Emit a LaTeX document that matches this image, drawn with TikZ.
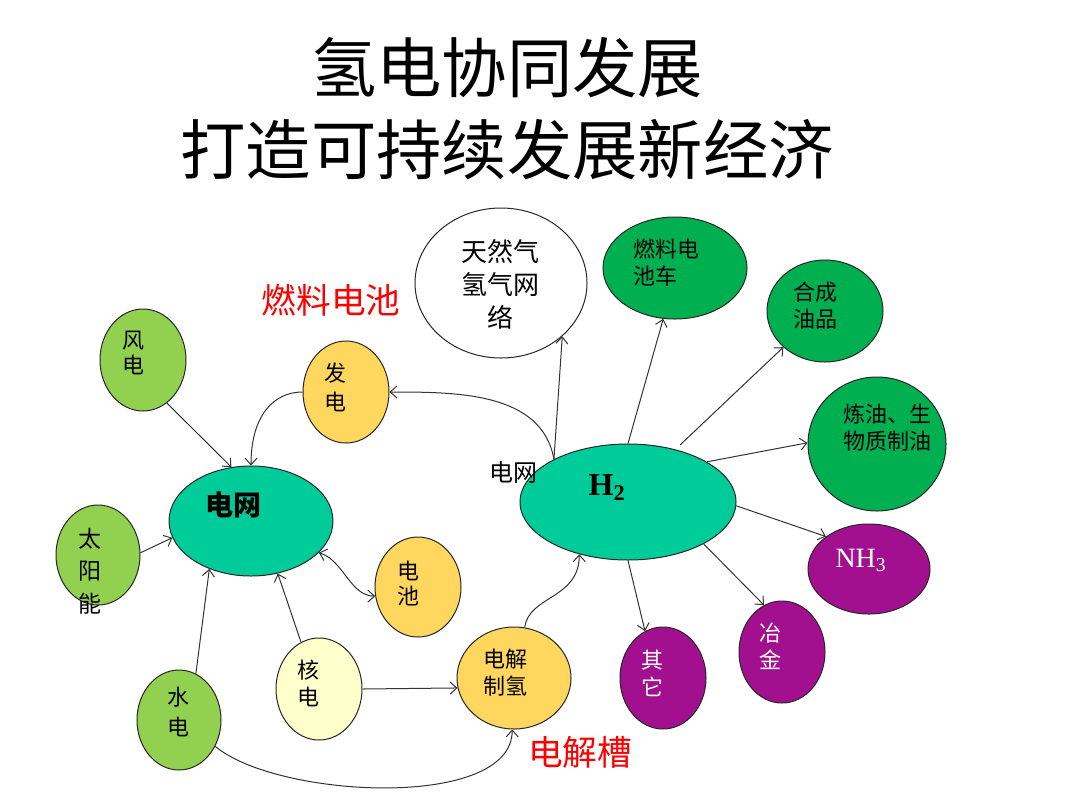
\documentclass[tikz,border=0pt]{standalone}
\usepackage{fontspec}
\setmainfont{Liberation Serif}
\newfontfamily\cjk{Noto Sans CJK SC}
\usetikzlibrary{shapes.geometric,arrows.meta}
\definecolor{lgreen}{HTML}{92D050}
\definecolor{gridteal}{HTML}{00CC99}
\definecolor{sunyellow}{HTML}{FFD75E}
\definecolor{paleyellow}{HTML}{FFFFCC}
\definecolor{dgreen}{HTML}{00B050}
\definecolor{purp}{HTML}{A3108F}
\tikzset{every picture/.style={line width=0.75pt}}
\tikzset{
oval/.style 2 args={ellipse, draw=black!85, inner sep=0pt, minimum width=#1*0.75pt, minimum height=#2*0.75pt},
txt/.style={inner sep=0pt, align=center, font=\cjk\fontsize{16.5}{20.25}\selectfont},
flow/.style={-{Straight Barb[length=5pt,width=9pt]}, black!80}}

\begin{document}
\begin{tikzpicture}[x=0.75pt,y=0.75pt,yscale=-1]
\path [use as bounding box, fill=white] (0,0) rectangle (1080,810);

%Shape: Ellipse (power side)
\node [oval={86}{102}, fill=lgreen] (wind) at (143,360) {};
\node [oval={84}{100}, fill=lgreen] (solar) at (98,555) {};
\node [oval={164}{110}, fill=gridteal] (grid) at (251,521) {};
\node [oval={86}{102}, fill=sunyellow] (fuelgen) at (346,392) {};
\node [oval={86}{100}, fill=sunyellow] (battery) at (418,587) {};
\node [oval={84}{100}, fill=lgreen] (hydro) at (179,720) {};
\node [oval={86}{102}, fill=paleyellow] (nuclear) at (319,689) {};
\node [oval={114}{102}, fill=sunyellow] (electro) at (514,678) {};
%Shape: Ellipse (hydrogen side)
\node [oval={216}{116}, fill=gridteal] (htwo) at (628,502) {};
\node [oval={172}{150}, fill=white] (gasnet) at (501,283) {};
\node [oval={144}{102}, fill=dgreen] (fcv) at (675,268) {};
\node [oval={116}{102}, fill=dgreen] (synoil) at (825,311) {};
\node [oval={138}{134}, fill=dgreen] (refine) at (877,444) {};
\node [oval={122}{90}, fill=purp] (ammonia) at (869,569) {};
\node [oval={86}{102}, fill=purp] (metal) at (782,652) {};
\node [oval={86}{102}, fill=purp] (other) at (663,678) {};

%Straight Lines
\draw [flow] (wind.-61) -- (grid.110);
\draw [flow] (solar.3) -- (grid.192);
\draw [flow] (hydro.70) -- (grid.229);
\draw [flow] (nuclear.111) -- (grid.-63);
\draw [flow] (nuclear.0) -- (electro.190);
%Curve Lines
\draw [flow] (fuelgen.180) .. controls +(-28,0) and +(0,-51) .. (grid.90);
\draw [flow, {Straight Barb[length=5pt,width=9pt]}-{Straight Barb[length=5pt,width=9pt]}] (grid.-25) .. controls +(25,8) and +(-25,0) .. (battery.192);
\draw [flow] (hydro.-36) .. controls +(62,52) and +(0,81) .. (electro.-92);
\draw [flow] (electro.78) .. controls +(4,-32) and +(0,45) .. (htwo.227);
\draw [flow] (htwo.150) .. controls +(-12,-67) and +(68,0) .. (fuelgen.0);
%Straight Lines
\draw [flow] (htwo.150) -- (gasnet.-41);
\draw [flow] (htwo.90) -- (fcv.257);
\draw [flow, shorten <=5pt] (htwo.48) -- (synoil.221);
\draw [flow] (htwo.27) -- (refine.179);
\draw [flow] (htwo.-2) -- (ammonia.143);
\draw [flow] (htwo.-29) -- (metal.111);
\draw [flow] (htwo.-90) -- (other.111);

% Text Node
\node [txt, font=\cjk\fontsize{49}{60}\selectfont] (title1) at (507,68) {氢电协同发展};
\node [txt, font=\cjk\fontsize{49}{60}\selectfont] (title2) at (507,150) {打造可持续发展新经济};
\node [txt, red, font=\cjk\fontsize{26}{30}\selectfont] (fclabel) at (331,300) {燃料电池};
\node [txt, red, font=\cjk\fontsize{26}{30}\selectfont] (ellabel) at (580,752) {电解槽};
% Text Node
\node [txt, font=\cjk\fontsize{16.5}{18.75}\selectfont] (windt) at (133,353) {风\\电};
\node [txt, font=\cjk\fontsize{17.25}{24.5}\selectfont] (solart) at (90,571) {太\\阳\\能};
\node [txt, font=\cjk\bfseries\fontsize{21}{24}\selectfont] (gridt) at (233,505) {电网};
\node [txt, font=\cjk\fontsize{16.5}{21.75}\selectfont] (fuelgent) at (335,387) {发\\电};
\node [txt, font=\cjk\fontsize{16.5}{18.75}\selectfont] (batteryt) at (408,584) {电\\池};
\node [txt, font=\cjk\fontsize{16.5}{22.5}\selectfont] (hydrot) at (178,712) {水\\电};
\node [txt] (nucleart) at (308,683) {核\\电};
\node [txt] (electrot) at (505,673) {电解\\制氢};
% Text Node
\node [txt, font=\bfseries\fontsize{24}{28}\selectfont] (htwot) at (607,488) {H\textsubscript{2}};
\node [txt, font=\cjk\fontsize{18}{22}\selectfont] (gridlbl) at (513,472) {电网};
\node [txt, font=\cjk\fontsize{19.5}{24.75}\selectfont] (gasnett) at (500,284) {天然气\\氢气网\\络};
\node [txt, anchor=west, align=left] (fcvt) at (633,263) {燃料电\\池车};
\node [txt, anchor=west, align=left] (synoilt) at (793,306) {合成\\油品};
\node [txt, anchor=west, align=left] (refinet) at (843,428) {炼油、生\\物质制油};
\node [txt, anchor=west, white, font=\fontsize{21}{24}\selectfont] (ammoniat) at (835,560) {NH\textsubscript{3}};
\node [txt, white] (metalt) at (770,646) {冶\\金};
\node [txt, white] (othert) at (652,673) {其\\它};

\end{tikzpicture}
\end{document}
